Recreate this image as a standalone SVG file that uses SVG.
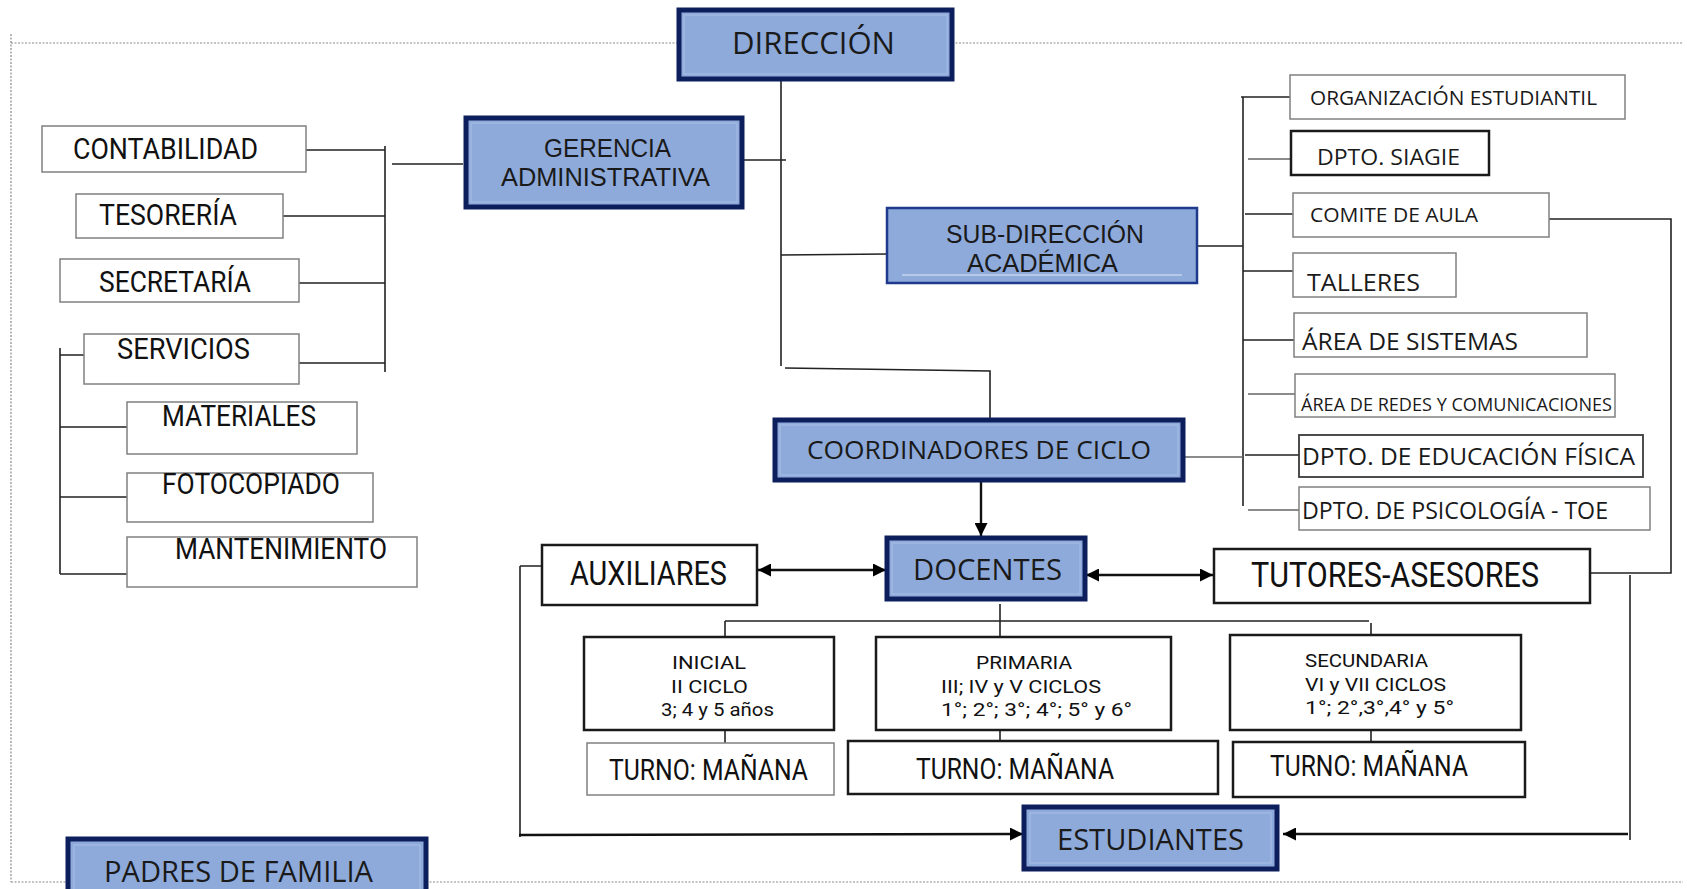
<svg xmlns="http://www.w3.org/2000/svg" width="1687" height="889" viewBox="0 0 1687 889">
<defs>
<style>
.frame{fill:none;stroke:#8a8a8a;stroke-width:1.2;stroke-dasharray:2 1.5}
.bb{fill:#8eaadb;stroke:#0c1f5c;stroke-width:5}
.bbt{fill:#8eaadb;stroke:#1f3a8a;stroke-width:2.5}
.inner{fill:none;stroke:#a9bde6;stroke-width:1}
.wg{fill:#fff;stroke:#808080;stroke-width:1.5}
.wk{fill:#fff;stroke:#1a1a1a;stroke-width:2.5}
.wd{fill:#fff;stroke:#3a3a3a;stroke-width:1.8}
.ln{fill:none;stroke:#222;stroke-width:1.6}
.lg{fill:none;stroke:#666;stroke-width:1.6}
.ar{fill:none;stroke:#111;stroke-width:2.4}
.m{font-family:"Open Sans","Liberation Sans",sans-serif;fill:#1a1a1a}
.m2{font-family:"Liberation Sans",Arial,sans-serif;fill:#1a1a1a}
.c{font-family:Roboto,"Liberation Sans",sans-serif;fill:#111}
</style>
<marker id="ah" viewBox="0 0 10 10" refX="10" refY="5" markerWidth="13" markerHeight="13" markerUnits="userSpaceOnUse" orient="auto-start-reverse"><path d="M0,0 L10,5 L0,10 z" fill="#000"/></marker>
</defs>
<rect width="1687" height="889" fill="#fff"/>

<g id="frame">
<path class="frame" d="M11,43 H679 M952,43 H1683 M11,34 V882 M11,882 H68 M426,882 H1683"/>
</g>

<g id="connectors">
<path class="ln" d="M306,150 H385 M283,216 H385 M299,283 H385 M299,363 H385 M385,146 V372 M392,164 H463"/>
<path class="ln" d="M60,348 V574 M60,355 H84 M60,427 H127 M60,497 H127 M60,574 H127"/>
<path class="ln" d="M781,79 V366 M742,160 H786 M781,255 L887,254 M785,368 L990,371 V420"/>
<path class="ln" d="M1197,246 H1243 M1243,97 V506 M1241,97 H1290 M1245,214 H1293 M1243,271 H1293 M1243,340 H1294 M1245,455 H1299"/>
<path class="lg" d="M1248,159 H1291 M1248,394 H1295 M1248,510 H1299 M1183,457 H1243"/>
<path class="ln" d="M1549,219 H1671 V573 H1590"/>
<path class="ln" d="M1630,575 V840"/>
<path class="ar" d="M1628,834 H1283" marker-end="url(#ah)"/>
<path class="ln" d="M520,566 H542 M520,566 V837"/>
<path class="ar" d="M519,835 L1023,834" marker-end="url(#ah)"/>
<path class="ar" d="M758,570 H886" marker-start="url(#ah)" marker-end="url(#ah)"/>
<path class="ar" d="M1086,575 H1213" marker-start="url(#ah)" marker-end="url(#ah)"/>
<path class="ar" d="M981,481 V536" marker-end="url(#ah)"/>
<path class="ln" d="M1000,604 V637 M725,621 H1369 M725,621 V637 M1371,623 V635 M725,730 V743 M1000,730 V741 M1371,730 V742"/>
</g>

<g id="direccion">
<rect class="bb" x="679" y="10" width="273" height="69"/>
<rect class="inner" x="684" y="15" width="263" height="59"/>
<text class="m" x="732" y="54" font-size="31" textLength="163" lengthAdjust="spacingAndGlyphs">DIRECCIÓN</text>
</g>

<g id="gerencia">
<rect class="bb" x="466" y="118" width="276" height="89"/>
<rect class="inner" x="471" y="123" width="266" height="79"/>
<text class="m2" x="544" y="157" font-size="25" textLength="127" lengthAdjust="spacingAndGlyphs">GERENCIA</text>
<text class="m2" x="501" y="186" font-size="25" textLength="209" lengthAdjust="spacingAndGlyphs">ADMINISTRATIVA</text>
</g>

<g id="subdireccion">
<rect class="bbt" x="887" y="208" width="310" height="75"/>
<line x1="902" y1="275" x2="1182" y2="275" stroke="#c5d3ee" stroke-width="1.5"/>
<text class="m2" x="946" y="243" font-size="25" textLength="198" lengthAdjust="spacingAndGlyphs">SUB-DIRECCIÓN</text>
<text class="m2" x="967" y="272" font-size="25" textLength="151" lengthAdjust="spacingAndGlyphs">ACADÉMICA</text>
</g>

<g id="coordinadores">
<rect class="bb" x="775" y="420" width="408" height="60"/>
<rect class="inner" x="780" y="425" width="398" height="50"/>
<text class="m" x="807" y="459" font-size="26" textLength="344" lengthAdjust="spacingAndGlyphs">COORDINADORES DE CICLO</text>
</g>

<g id="docentes">
<rect class="bb" x="887" y="538" width="198" height="61"/>
<rect class="inner" x="892" y="543" width="188" height="51"/>
<text class="m" x="913" y="580" font-size="30" textLength="149" lengthAdjust="spacingAndGlyphs">DOCENTES</text>
</g>

<g id="estudiantes">
<rect class="bb" x="1024" y="807" width="253" height="62" stroke-width="6"/>
<rect class="inner" x="1030" y="813" width="241" height="50"/>
<text class="m" x="1057" y="850" font-size="30" textLength="187" lengthAdjust="spacingAndGlyphs">ESTUDIANTES</text>
</g>

<g id="padres">
<rect class="bb" x="68" y="839" width="358" height="70" stroke-width="6"/>
<rect class="inner" x="74" y="845" width="346" height="60"/>
<text class="m" x="104" y="882" font-size="30" textLength="269" lengthAdjust="spacingAndGlyphs">PADRES DE FAMILIA</text>
</g>

<g id="contabilidad">
<rect class="wg" x="42" y="126" width="264" height="46"/>
<text class="c" x="73" y="159" font-size="30" textLength="185" lengthAdjust="spacingAndGlyphs">CONTABILIDAD</text>
</g>
<g id="tesoreria">
<rect class="wg" x="76" y="194" width="207" height="44"/>
<text class="c" x="99" y="225" font-size="30" textLength="138" lengthAdjust="spacingAndGlyphs">TESORERÍA</text>
</g>
<g id="secretaria">
<rect class="wg" x="60" y="259" width="239" height="43"/>
<text class="c" x="99" y="292" font-size="30" textLength="152" lengthAdjust="spacingAndGlyphs">SECRETARÍA</text>
</g>
<g id="servicios">
<rect class="wg" x="84" y="334" width="215" height="50"/>
<text class="c" x="117" y="359" font-size="30" textLength="133" lengthAdjust="spacingAndGlyphs">SERVICIOS</text>
</g>
<g id="materiales">
<rect class="wg" x="127" y="402" width="230" height="52"/>
<text class="c" x="162" y="426" font-size="30" textLength="154" lengthAdjust="spacingAndGlyphs">MATERIALES</text>
</g>
<g id="fotocopiado">
<rect class="wg" x="127" y="473" width="246" height="49"/>
<text class="c" x="162" y="494" font-size="30" textLength="178" lengthAdjust="spacingAndGlyphs">FOTOCOPIADO</text>
</g>
<g id="mantenimiento">
<rect class="wg" x="127" y="537" width="290" height="50"/>
<text class="c" x="175" y="559" font-size="30" textLength="212" lengthAdjust="spacingAndGlyphs">MANTENIMIENTO</text>
</g>

<g id="organizacion">
<rect class="wg" x="1290" y="75" width="335" height="44"/>
<text class="m" x="1310" y="105" font-size="20" textLength="287" lengthAdjust="spacingAndGlyphs">ORGANIZACIÓN ESTUDIANTIL</text>
</g>
<g id="siagie">
<rect class="wk" x="1291" y="131" width="198" height="44"/>
<text class="m" x="1317" y="165" font-size="22" textLength="143" lengthAdjust="spacingAndGlyphs">DPTO. SIAGIE</text>
</g>
<g id="comite">
<rect class="wg" x="1293" y="193" width="256" height="44"/>
<text class="m" x="1310" y="222" font-size="20" textLength="168" lengthAdjust="spacingAndGlyphs">COMITE DE AULA</text>
</g>
<g id="talleres">
<rect class="wg" x="1293" y="253" width="163" height="44"/>
<text class="m" x="1307" y="291" font-size="23" textLength="113" lengthAdjust="spacingAndGlyphs">TALLERES</text>
</g>
<g id="sistemas">
<rect class="wg" x="1294" y="313" width="293" height="44"/>
<text class="m" x="1302" y="350" font-size="24" textLength="216" lengthAdjust="spacingAndGlyphs">ÁREA DE SISTEMAS</text>
</g>
<g id="redes">
<rect class="wg" x="1295" y="374" width="320" height="43"/>
<text class="m" x="1301" y="411" font-size="18" textLength="311" lengthAdjust="spacingAndGlyphs">ÁREA DE REDES Y COMUNICACIONES</text>
</g>
<g id="educacion">
<rect class="wd" x="1299" y="435" width="344" height="42"/>
<text class="m" x="1302" y="465" font-size="24" textLength="333" lengthAdjust="spacingAndGlyphs">DPTO. DE EDUCACIÓN FÍSICA</text>
</g>
<g id="psicologia">
<rect class="wg" x="1299" y="487" width="351" height="43"/>
<text class="m" x="1302" y="519" font-size="24" textLength="306" lengthAdjust="spacingAndGlyphs">DPTO. DE PSICOLOGÍA - TOE</text>
</g>

<g id="auxiliares">
<rect class="wk" x="542" y="545" width="215" height="60"/>
<text class="c" x="570" y="585" font-size="33" textLength="157" lengthAdjust="spacingAndGlyphs">AUXILIARES</text>
</g>
<g id="tutores">
<rect class="wk" x="1214" y="549" width="376" height="54"/>
<text class="c" x="1251" y="587" font-size="35" textLength="288" lengthAdjust="spacingAndGlyphs">TUTORES-ASESORES</text>
</g>

<g id="inicial">
<rect class="wk" x="584" y="637" width="250" height="93"/>
<text class="c" x="672" y="669" font-size="19" textLength="74" lengthAdjust="spacingAndGlyphs">INICIAL</text>
<text class="c" x="671" y="693" font-size="19" textLength="77" lengthAdjust="spacingAndGlyphs">II CICLO</text>
<text class="c" x="661" y="716" font-size="19" textLength="113" lengthAdjust="spacingAndGlyphs">3; 4 y 5 años</text>
</g>
<g id="primaria">
<rect class="wk" x="876" y="637" width="295" height="93"/>
<text class="c" x="976" y="669" font-size="19" textLength="96" lengthAdjust="spacingAndGlyphs">PRIMARIA</text>
<text class="c" x="941" y="693" font-size="19" textLength="160" lengthAdjust="spacingAndGlyphs">III; IV y V CICLOS</text>
<text class="c" x="941" y="716" font-size="19" textLength="191" lengthAdjust="spacingAndGlyphs">1°; 2°; 3°; 4°; 5° y 6°</text>
</g>
<g id="secundaria">
<rect class="wk" x="1230" y="635" width="291" height="95"/>
<text class="c" x="1305" y="667" font-size="19" textLength="123" lengthAdjust="spacingAndGlyphs">SECUNDARIA</text>
<text class="c" x="1305" y="691" font-size="19" textLength="141" lengthAdjust="spacingAndGlyphs">VI y VII CICLOS</text>
<text class="c" x="1305" y="714" font-size="19" textLength="149" lengthAdjust="spacingAndGlyphs">1°; 2°,3°,4° y 5°</text>
</g>

<g id="turno-inicial">
<rect class="wg" x="587" y="743" width="247" height="52"/>
<text class="c" x="609" y="780" font-size="29" textLength="199" lengthAdjust="spacingAndGlyphs">TURNO: MAÑANA</text>
</g>
<g id="turno-primaria">
<rect class="wk" x="848" y="741" width="370" height="53"/>
<text class="c" x="916" y="779" font-size="29" textLength="198" lengthAdjust="spacingAndGlyphs">TURNO: MAÑANA</text>
</g>
<g id="turno-secundaria">
<rect class="wk" x="1233" y="742" width="292" height="55"/>
<text class="c" x="1270" y="776" font-size="29" textLength="198" lengthAdjust="spacingAndGlyphs">TURNO: MAÑANA</text>
</g>
</svg>
